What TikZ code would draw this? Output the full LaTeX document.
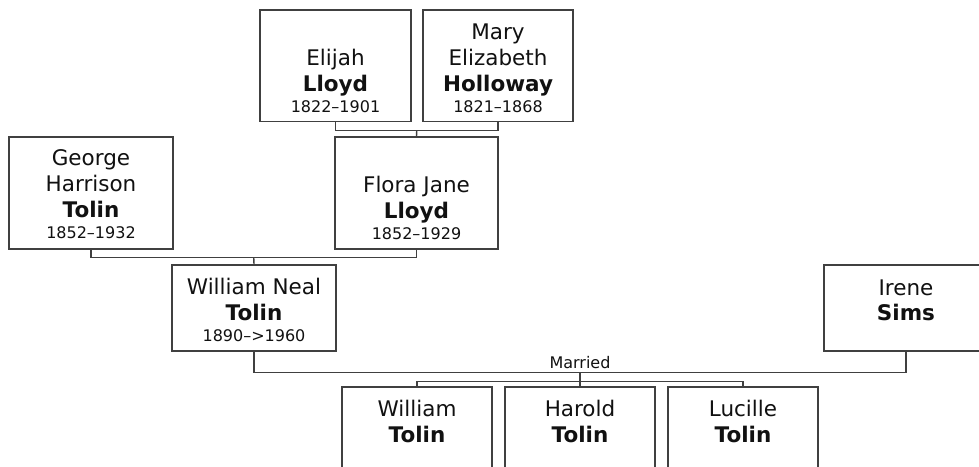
\documentclass[tikz,border=0pt]{standalone}
\usepackage{fontspec}
\setmainfont{DejaVu Sans}
\usetikzlibrary{fit,calc}
\definecolor{linegray}{HTML}{404040}
\definecolor{txt}{HTML}{111111}
\tikzset{
  box/.style={draw=linegray, line width=1.4pt, inner sep=0pt, fill=white},
  conn/.style={draw=linegray, line width=1.4pt},
  nm/.style={anchor=base, inner sep=0pt, text=txt, font=\fontsize{21.5}{26}\selectfont},
  sn/.style={anchor=base, inner sep=0pt, text=txt, font=\fontsize{21.5}{26}\selectfont\bfseries},
  dt/.style={anchor=base, inner sep=0pt, text=txt, font=\fontsize{16}{19}\selectfont},
}
\begin{document}
\begin{tikzpicture}[x=1pt,y=-1pt]
\useasboundingbox (0,0) rectangle (979,466);
\fill[white] (0,0) rectangle (979,466);
\clip (0,0) rectangle (979,466);
% boxes
\node[box, fit={(260,10) (411,121.5)}] (eli) {};
\node[box, fit={(423,10) (573,121.5)}] (mary) {};
\node[box, fit={(9,137) (173,249)}] (george) {};
\node[box, fit={(335,137) (498,249)}] (flora) {};
\node[box, fit={(172,265) (336,351)}] (wn) {};
\node[box, fit={(824,265) (988,351)}] (irene) {};
\node[box, fit={(342,387) (492,520)}] (c1) {};
\node[box, fit={(505,387) (655,520)}] (c2) {};
\node[box, fit={(668,387) (818,520)}] (c3) {};
% connectors
\coordinate (em) at ($(eli.south)!0.5!(mary.south)+(0,8)$);
\draw[conn] (eli.south) -- ++(0,8) -| (mary.south);
\draw[conn] (em) -- (flora.north);
\coordinate (gf) at ($(george.south)!0.5!(flora.south)+(0,8)$);
\draw[conn] (george.south) -- ++(0,8) -| (flora.south);
\draw[conn] (gf) -- (wn.north);
\coordinate (mar) at ($(wn.south)!0.5!(irene.south)+(0,20.5)$);
\draw[conn] (wn.south) |- (mar) -| (irene.south);
\coordinate (kb) at ($(mar)+(0,9)$);
\draw[conn] (mar) -- (kb);
\draw[conn] (c1.north) -- (c1.north |- kb) -- (c3.north |- kb) -- (c3.north);
\draw[conn] (kb) -- (c2.north);
\node[dt] (marlbl) at ($(mar)+(0,-4)$) {Married};
% texts
\node[nm] (mary1) at (498,39) {Mary};
\node[nm] (mary2) at (498,65) {Elizabeth};
\node[sn] (mary3) at (498,91) {Holloway};
\node[dt] (mary4) at (498,112) {1821–1868};
\node[nm] (eli1) at (335.5,65) {Elijah};
\node[sn] (eli2) at (335.5,91) {Lloyd};
\node[dt] (eli3) at (335.5,112) {1822–1901};
\node[nm] (geo1) at (91,165) {George};
\node[nm] (geo2) at (91,191) {Harrison};
\node[sn] (geo3) at (91,217) {Tolin};
\node[dt] (geo4) at (91,238) {1852–1932};
\node[nm] (flo1) at (416.5,192) {Flora Jane};
\node[sn] (flo2) at (416.5,218) {Lloyd};
\node[dt] (flo3) at (416.5,239) {1852–1929};
\node[nm] (wn1) at (254,294) {William Neal};
\node[sn] (wn2) at (254,320) {Tolin};
\node[dt] (wn3) at (254,341) {1890–>1960};
\node[nm] (ire1) at (906,295) {Irene};
\node[sn] (ire2) at (906,320) {Sims};
\node[nm] (c1a) at (417,416) {William};
\node[sn] (c1b) at (417,442) {Tolin};
\node[nm] (c2a) at (580,416) {Harold};
\node[sn] (c2b) at (580,442) {Tolin};
\node[nm] (c3a) at (743,416) {Lucille};
\node[sn] (c3b) at (743,442) {Tolin};
\end{tikzpicture}
\end{document}
